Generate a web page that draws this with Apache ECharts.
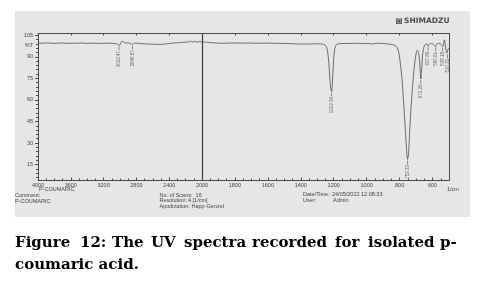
<!DOCTYPE html>
<html>
<head>
<meta charset="utf-8">
<script src="https://cdn.jsdelivr.net/npm/echarts@6/dist/echarts.min.js"></script>
<style>
html,body{margin:0;padding:0;background:#fff;}
#chart{width:497px;height:281px;}
</style>
</head>
<body>
<div id="chart"></div>
<script>
// ---- Data (wavenumber 1/cm, %T) ----
const wnLeft = [4000,3940,3880,3820,3760,3700,3640,3580,3520,3460,3400,3340,3280,3220,3160,3100,3060,3030,3012,2995,2975,2955,2935,2910,2880,2860,2846,2832,2810,2760,2700,2640,2580,2520,2460,2400,2350,2300,2250,2200,2160,2140,2120,2090,2060,2030,2000];
const tLeft  = [99.6,99.4,99.7,99.3,99.5,99.6,99.3,99.5,99.4,99.6,99.3,99.5,99.4,99.3,99.5,99.3,99.2,98.7,97.8,99.0,100.8,100.3,99.6,99.7,99.4,98.9,98.4,99.3,99.5,99.2,99.0,98.8,98.7,98.6,98.8,99.2,99.6,99.8,100.0,100.2,100.3,101.0,100.3,100.7,100.2,100.5,100.3];

const wnRight = [2000,1960,1920,1880,1840,1800,1760,1720,1680,1640,1600,1560,1520,1480,1440,1400,1360,1320,1290,1270,1255,1245,1237,1230,1224,1219,1213,1209,1205,1200,1194,1186,1175,1150,1100,1060,1020,990,960,940,910,880,850,830,815,805,795,785,775,765,758,752,746,740,732,724,716,708,700,692,685,679,675,671,667,662,656,648,638,631,627,622,612,598,586,581,576,566,552,542,538,533,528,524,519,514,510,505,500];
const tRight  = [100.3,100.0,99.6,99.4,99.5,99.6,99.5,99.6,99.4,99.5,99.5,99.4,99.3,99.2,99.0,98.9,98.9,99.0,99.0,98.8,98.3,97.0,93.5,86,76,68.5,65.8,70,79,89,95.5,98,99,99.2,99.3,99.4,99.1,99.3,98.9,99.4,99.3,99.0,98.6,98.0,96.5,93,85,74,57,39,26,18.6,22,35,52,65,77,86,92,94.5,93,88,80,74.5,80,89,95,98,99,98.4,97.3,98.6,99.2,99.0,97.8,97.1,98.5,99.3,99.0,97.8,97.2,99,101.8,99.5,95,92.5,93.5,95.5,96];

const peakWn   = [3012,2846,1213,752,671,627,581,538,510];
const peakT    = [97.8,98.4,65.8,18.6,74.5,97.3,97.1,97.2,92.5];
const peakText = ['3012.47','2846.87','1213.36','752.33','671.26','627.89','580.61','538.18','510.21'];

const yMajor = [15,30,45,60,75,90,105];
const yMinor = [6,9,12,18,21,24,27,33,36,39,42,48,51,54,57,63,66,69,72,78,81,84,87,93,96,99,102];
const xMajorLeft  = [4000,3600,3200,2800,2400,2000];
const xMinorLeft  = [3900,3800,3700,3500,3400,3300,3100,3000,2900,2700,2600,2500,2300,2200,2100];
const xMajorRight = [1800,1600,1400,1200,1000,800,600];
const xMinorRight = [1950,1900,1850,1750,1700,1650,1550,1500,1450,1350,1300,1250,1150,1100,1050,950,900,850,750,700,650,550];

// ---- Build ----
const AX = '#4a4a4a';
const lbl = {fontSize: 5.5, color: '#444', fontFamily: 'Liberation Sans', formatter: v => String(v)};
const Y_MIN = 3.9, Y_MAX = 106.2;

function xAxisDef(grid, min, max, pos, opts) {
  return Object.assign({
    type: 'value', gridIndex: grid, min: min, max: max, inverse: true, position: pos, offset: 0,
    axisLine: {show: false, onZero: false, lineStyle: {color: AX, width: 1}},
    axisTick: {show: false},
    axisLabel: {show: false},
    splitLine: {show: false}
  }, opts);
}
function yAxisDef(grid, pos, opts) {
  return Object.assign({
    type: 'value', gridIndex: grid, min: Y_MIN, max: Y_MAX, position: pos, offset: 0,
    axisLine: {show: false, onZero: false, lineStyle: {color: AX, width: 1}},
    axisTick: {show: false},
    axisLabel: {show: false},
    splitLine: {show: false}
  }, opts);
}

const xAxes = [
  xAxisDef(0, 2000, 4000, 'bottom', {
    axisLine: {show: true, onZero: false, lineStyle: {color: AX, width: 1}},
    axisTick: {show: true, inside: true, length: 3, customValues: xMajorLeft, lineStyle: {color: AX}},
    axisLabel: Object.assign({show: true, customValues: xMajorLeft, margin: 1.5}, lbl)
  }),
  xAxisDef(1, 500, 2000, 'bottom', {
    axisLine: {show: true, onZero: false, lineStyle: {color: AX, width: 1}},
    axisTick: {show: true, inside: true, length: 3, customValues: xMajorRight, lineStyle: {color: AX}},
    axisLabel: Object.assign({show: true, customValues: xMajorRight, margin: 1.5}, lbl)
  }),
  xAxisDef(0, 2000, 4000, 'bottom', {
    axisTick: {show: true, inside: true, length: 2, customValues: xMinorLeft, lineStyle: {color: AX}}
  }),
  xAxisDef(1, 500, 2000, 'bottom', {
    axisTick: {show: true, inside: true, length: 2, customValues: xMinorRight, lineStyle: {color: AX}}
  }),
  xAxisDef(0, 2000, 4000, 'top', {
    axisLine: {show: true, onZero: false, lineStyle: {color: AX, width: 1}},
    axisTick: {show: true, inside: true, length: 2, customValues: xMajorLeft, lineStyle: {color: AX}}
  }),
  xAxisDef(1, 500, 2000, 'top', {
    axisLine: {show: true, onZero: false, lineStyle: {color: AX, width: 1}},
    axisTick: {show: true, inside: true, length: 2, customValues: xMajorRight, lineStyle: {color: AX}}
  })
];

const yAxes = [
  yAxisDef(0, 'left', {
    axisLine: {show: true, onZero: false, lineStyle: {color: AX, width: 1}},
    axisTick: {show: true, length: 3, customValues: yMajor, lineStyle: {color: AX}},
    axisLabel: Object.assign({show: true, customValues: yMajor, margin: 5}, lbl)
  }),
  yAxisDef(0, 'left', {
    axisTick: {show: true, length: 2, customValues: yMinor, lineStyle: {color: AX}}
  }),
  yAxisDef(1, 'left', {
    axisLine: {show: true, onZero: false, lineStyle: {color: '#3a3a3a', width: 1.2}}
  }),
  yAxisDef(1, 'right', {
    axisLine: {show: true, onZero: false, lineStyle: {color: AX, width: 1}}
  })
];

const leftData = wnLeft.map((w, i) => [w, tLeft[i]]);
const rightData = wnRight.map((w, i) => [w, tRight[i]]);
const peaksL = [], peaksR = [];
peakWn.forEach((w, i) => {
  const d = [w, peakT[i], peakText[i]];
  if (w > 2000) peaksL.push(d); else peaksR.push(d);
});

const lineStyle = {color: '#4d4d4d', width: 0.8};
function peakSeries(xi, yi, data) {
  return {
    type: 'scatter', xAxisIndex: xi, yAxisIndex: yi, data: data,
    symbol: 'rect', symbolSize: [0.7, 4], symbolOffset: [0, 3],
    itemStyle: {color: '#444'},
    silent: true, z: 5,
    label: {
      show: true, position: 'bottom', distance: 0.5, rotate: 90,
      align: 'right', verticalAlign: 'middle',
      fontSize: 4.5, color: '#3b4658', fontFamily: 'Liberation Sans',
      formatter: p => p.data[2]
    }
  };
}

const captionFont = {fontSize: 15, fontWeight: 'bold', fontFamily: 'DejaVu Serif', fill: '#000'};
const line1 = [['Figure',15],['12:',80],['The',112],['UV',151],['spectra',184],['recorded',252],['for',335],['isolated',368],['p-',440]];
const smallFont = {fontSize: 5.5, fontFamily: 'Liberation Sans', fill: '#444'};
function sText(t, x, y, extra) {
  return {type: 'text', x: x, y: y, z: 10, style: Object.assign({text: t, verticalAlign: 'middle', align: 'left'}, smallFont, extra || {})};
}

const graphics = [
  {type: 'rect', shape: {x: 15, y: 11, width: 455, height: 206}, style: {fill: '#e6e6e6'}, z: -10, silent: true},
  // logo
  {type: 'rect', shape: {x: 396, y: 18.5, width: 6, height: 5.5}, style: {fill: '#555'}, z: 10},
  {type: 'rect', shape: {x: 397.3, y: 19.7, width: 3.4, height: 3.1}, style: {fill: 'none', stroke: '#ddd', lineWidth: 0.6}, z: 11},
  {type: 'text', x: 404, y: 21.5, z: 10, style: {text: 'SHIMADZU', fontSize: 7.5, fontWeight: 'bold', fontFamily: 'DejaVu Sans', fill: '#4a4a4a', verticalAlign: 'middle'}},
  sText('%T', 33, 45, {align: 'right'}),
  sText('1/cm', 447, 189),
  sText('P-COUMARIC', 39, 189.5),
  sText('Comment:', 15, 195),
  sText('P-COUMARIC', 15, 201),
  sText('No. of Scans:  16', 159.5, 195),
  sText('Resolution:', 159.5, 200.5),
  sText('4 [1/cm]', 188, 200.5),
  sText('Apodization:', 159.5, 206.5),
  sText('Happ-Genzel', 191.5, 206.5),
  sText('Date/Time:', 303, 194.5),
  sText('24/05/2022 12:08:33', 332, 194.5),
  sText('User:', 303, 200.5),
  sText('Admin', 333, 200.5)
];
line1.forEach(([t, x]) => graphics.push({type: 'text', x: x, y: 243, z: 10, style: Object.assign({text: t, verticalAlign: 'middle'}, captionFont)}));
graphics.push({type: 'text', x: 15, y: 265, z: 10, style: Object.assign({text: 'coumaric acid.', verticalAlign: 'middle'}, captionFont)});

const chart = echarts.init(document.getElementById('chart'), null, {renderer: 'canvas'});
chart.setOption({
  animation: false,
  backgroundColor: '#ffffff',
  grid: [
    {left: 38, top: 33.5, width: 164, height: 147},
    {left: 202, top: 33.5, width: 247, height: 147}
  ],
  xAxis: xAxes,
  yAxis: yAxes,
  series: [
    {type: 'line', xAxisIndex: 0, yAxisIndex: 0, data: leftData, showSymbol: false, smooth: 0.3, lineStyle: lineStyle, silent: true, z: 3},
    {type: 'line', xAxisIndex: 1, yAxisIndex: 2, data: rightData, showSymbol: false, smooth: 0.3, lineStyle: lineStyle, silent: true, z: 3},
    peakSeries(0, 0, peaksL),
    peakSeries(1, 2, peaksR)
  ],
  graphic: graphics
});
</script>
</body>
</html>
